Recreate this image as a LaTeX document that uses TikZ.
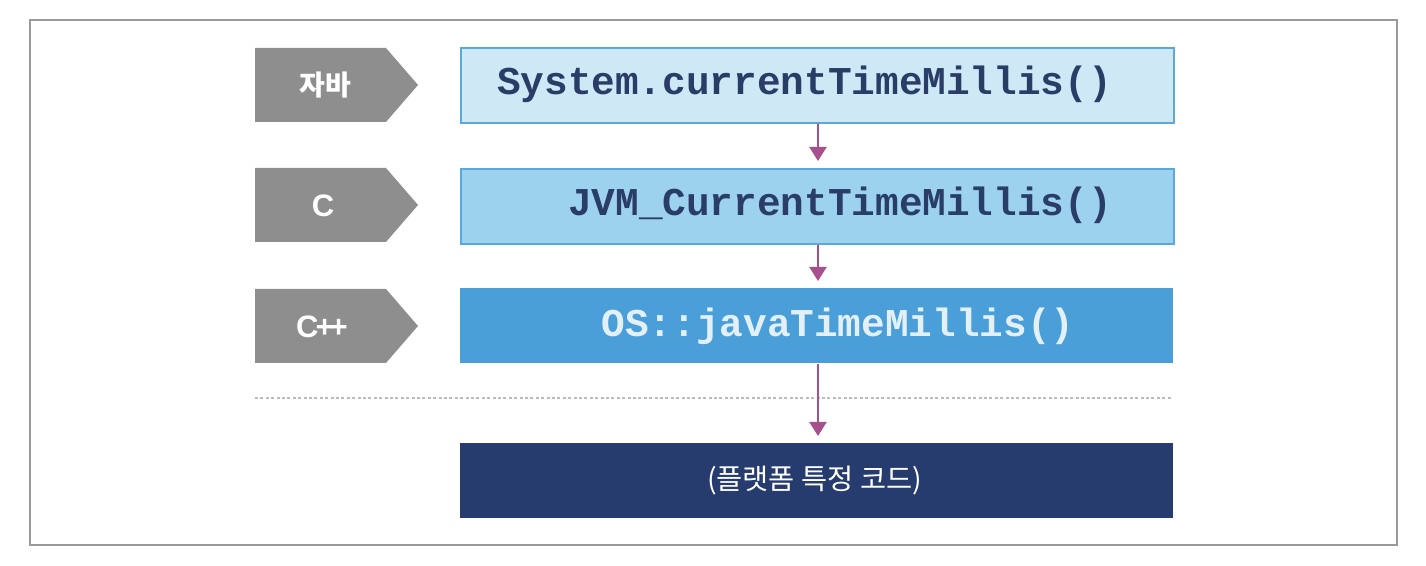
\documentclass[tikz,border=0pt]{standalone}
\usepackage{fontspec}
\setmainfont{Liberation Sans}
\newfontfamily\krfont{Noto Sans CJK KR}
\newfontfamily\codefont{Liberation Mono}
\usetikzlibrary{arrows.meta}
\definecolor{boxA}{HTML}{CFE8F6}
\definecolor{boxB}{HTML}{9DD2EE}
\definecolor{boxC}{HTML}{4A9FD8}
\definecolor{boxD}{HTML}{263B6E}
\definecolor{edgeblue}{HTML}{5BA8DC}
\definecolor{codedark}{HTML}{2A3D66}
\definecolor{codelight}{HTML}{E4F0F8}
\definecolor{taggray}{HTML}{8E8E8E}
\definecolor{arrowpurple}{HTML}{A6508E}
\definecolor{framegray}{HTML}{9A9A9A}
\definecolor{dotgray}{HTML}{BBBBBB}
\tikzset{
  layerbox/.style={rectangle, minimum width=356.5pt, minimum height=37.5pt, inner sep=0pt, anchor=north west},
  codetext/.style={font=\codefont\bfseries\fontsize{19.7}{20}\selectfont, inner sep=0pt},
  tagshape/.style={fill=taggray, draw=none},
  tagtext/.style={text=white, inner sep=0pt},
  callarrow/.style={draw=arrowpurple, line width=1.1pt, shorten >=3.5pt, -{Triangle[width=8.5pt,length=7pt]}},
}
\begin{document}
\begin{tikzpicture}[x=0.5pt, y=-0.5pt]
\useasboundingbox (0,0) rectangle (1426,566);
% outer frame
\draw[framegray, line width=0.8pt] (30,20) rectangle (1397,545);

% boxes
\node[layerbox, fill=boxA, draw=edgeblue, line width=0.9pt] (b1) at (460,47) {};
\node[layerbox, fill=boxB, draw=edgeblue, line width=0.9pt] (b2) at (460,168) {};
\node[layerbox, fill=boxC] (b3) at (460,288) {};
\node[layerbox, fill=boxD] (b4) at (460,443) {};

% box texts
\node[codetext, text=codedark] (t1) at (804.5,84) {System.currentTimeMillis()};
\node[codetext, text=codedark] (t2) at (840,205) {JVM\_CurrentTimeMillis()};
\node[codetext, text=codelight] (t3) at (838,326) {OS::javaTimeMillis()};
\node[text=white, inner sep=0pt, font=\krfont\fontsize{14.2}{15}\selectfont] (t4) at (814.5,481) {(플랫폼 특정 코드)};

% tags
\fill[tagshape] (255,48) -- (386,48) -- (418,85) -- (386,122) -- (255,122) -- cycle;
\fill[tagshape] (255,168) -- (386,168) -- (418,205) -- (386,242) -- (255,242) -- cycle;
\fill[tagshape] (255,289) -- (386,289) -- (418,326) -- (386,363) -- (255,363) -- cycle;
\node[tagtext, font=\krfont\bfseries\fontsize{14}{15}\selectfont] (g1) at (325,85) {자바};
\node[tagtext, font=\bfseries\fontsize{15.5}{16}\selectfont] (g2) at (323,206) {C};
\node[tagtext, font=\bfseries\fontsize{15.5}{16}\selectfont] (g3) at (322,327) {C\kern-1.5pt+\kern-2pt+};

% dotted separator
\coordinate (dl) at (255,398);
\coordinate (dr) at (1173,398);
\draw[dotgray, line width=0.8pt, dash pattern=on 1.5pt off 1.2pt] (dl) -- (dr);

% arrows
\draw[callarrow] (b1.south -| 818,0) -- (b2.north -| 818,0);
\draw[callarrow] (b2.south -| 818,0) -- (b3.north -| 818,0);
\draw[callarrow] (b3.south -| 818,0) -- (b4.north -| 818,0);
\end{tikzpicture}
\end{document}
